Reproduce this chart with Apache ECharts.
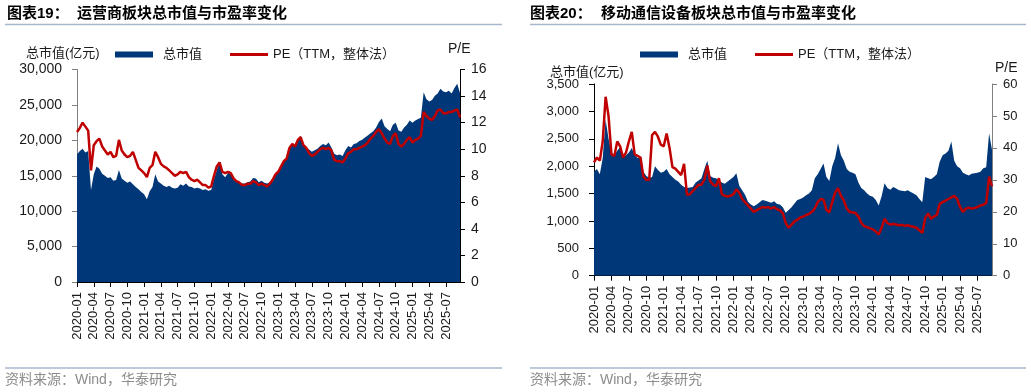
<!DOCTYPE html>
<html>
<head>
<meta charset="utf-8">
<script src="https://cdn.jsdelivr.net/npm/echarts@6/dist/echarts.min.js"></script>
<style>html,body{margin:0;padding:0;background:#fff;}#c{width:1031px;height:392px;}</style>
</head>
<body>
<div id="c"></div>
<script>
// quarter tick labels shown on the x axes
const tickLabels = ['2020-01','2020-04','2020-07','2020-10','2021-01','2021-04','2021-07','2021-10',
  '2022-01','2022-04','2022-07','2022-10','2023-01','2023-04','2023-07','2023-10',
  '2024-01','2024-04','2024-07','2024-10','2025-01','2025-04','2025-07'];

// semi-monthly observation dates, 2020-01-01 .. 2025-09-16
const dates = [];
for (let y = 2020; y <= 2025; y++) {
  for (let m = 1; m <= 12; m++) {
    const mm = (m < 10 ? '0' : '') + m;
    dates.push(y + '-' + mm + '-01');
    dates.push(y + '-' + mm + '-16');
  }
}
dates.length = 138;

// 图表19 运营商板块: 总市值 (亿元)
const leftCap = [
  18000,18500,18800,18300,18500,13000,15200,16300,16000,15300,
  15000,14700,14800,14300,14400,15800,14600,14300,14000,14200,
  13800,13400,13100,12700,12400,11700,12800,13400,15200,14200,
  13900,13600,13400,13600,13300,13200,13300,13800,13600,13900,
  13500,13400,13200,13300,13200,13000,13100,12900,13000,14500,
  15800,16800,15200,14800,15400,15300,14400,14200,14000,13900,
  13900,14100,14200,14700,14600,14100,14300,14000,13900,14100,
  14400,15200,15500,16300,17000,17400,18800,19500,19300,20200,
  20600,19400,19000,18700,18400,18600,18800,19200,19500,19300,
  19700,19000,18100,17900,18000,17800,18600,19200,19000,19500,
  19600,19900,20100,20400,20700,21000,21300,21800,22600,23100,
  22000,21600,21300,22200,22500,21400,21200,21800,22200,22800,
  22500,22800,23000,23200,26800,25800,25500,25700,26300,26600,
  27300,26900,26800,27000,26600,27400,28000,26700
];
// 图表19 运营商板块: PE (TTM, 整体法)
const leftPE = [
  11.3,11.6,12.0,11.7,11.4,8.4,10.3,10.6,10.8,10.2,
  9.9,9.6,9.8,9.4,9.5,10.7,9.9,9.6,9.4,9.5,
  9.8,9.2,8.6,8.4,8.2,7.9,8.6,8.8,9.8,9.4,
  8.9,8.7,8.6,8.4,8.2,8.0,8.1,8.3,8.2,8.3,
  7.9,7.7,7.6,7.7,7.5,7.3,7.3,7.1,7.2,8.0,
  8.7,9.0,8.3,8.2,8.3,8.2,7.8,7.6,7.5,7.3,
  7.3,7.4,7.4,7.6,7.5,7.3,7.4,7.3,7.2,7.4,
  7.7,8.1,8.3,8.7,9.1,9.3,10.1,10.4,10.2,10.7,
  10.9,10.3,10.1,9.7,9.5,9.6,9.8,10.0,10.1,10.0,
  10.1,9.9,9.2,9.1,9.1,9.0,9.3,9.7,9.8,10.0,
  10.0,10.1,10.2,10.3,10.5,10.8,11.0,11.3,11.5,11.2,
  10.8,10.5,10.4,11.0,11.2,10.4,10.2,10.4,10.7,10.9,
  10.5,10.7,10.8,11.0,12.8,12.5,12.3,12.2,12.5,12.9,
  13.0,12.7,12.7,12.8,12.8,12.9,13.0,12.4
];
// 图表20 移动通信设备板块: 总市值 (亿元)
const rightCap = [
  1900,1950,1850,2150,2850,2500,2250,2200,2280,2350,
  2150,2200,2250,2330,2200,2150,2150,1900,1820,1790,
  1800,2000,1930,1880,1900,1950,1850,1800,1750,1720,
  1660,1620,1600,1610,1620,1700,1740,1780,1950,2100,
  1820,1790,1780,1740,1700,1680,1720,1760,1800,1870,
  1640,1560,1480,1350,1300,1270,1300,1340,1380,1370,
  1350,1330,1360,1310,1300,1250,1150,1200,1250,1320,
  1380,1400,1430,1470,1500,1560,1780,1850,1950,2050,
  1800,1730,2000,2150,2420,2200,2100,1950,1900,1880,
  1850,1700,1600,1560,1500,1460,1440,1380,1280,1450,
  1690,1600,1570,1620,1590,1560,1550,1540,1560,1530,
  1500,1470,1400,1340,1800,1780,1760,1800,1850,2080,
  2200,2230,2280,2450,2100,2000,1960,1880,1850,1830,
  1860,1870,1880,1900,1960,1980,2600,2300
];
// 图表20 移动通信设备板块: PE (TTM, 整体法)
const rightPE = [
  35.5,37.0,36.0,42.0,56.0,50.0,38.0,37.5,42.0,40.5,
  37.0,38.5,42.0,45.0,38.0,37.5,37.0,31.0,30.0,30.0,
  44.0,45.0,43.5,41.0,40.5,44.5,40.0,34.0,33.5,32.5,
  31.5,35.0,25.3,25.5,26.5,27.5,28.5,28.5,30.0,34.5,
  29.5,28.5,28.0,30.5,25.5,25.0,24.8,25.0,25.5,27.0,
  26.0,24.0,23.0,22.0,21.0,20.0,20.5,21.0,21.5,21.3,
  21.5,21.0,21.5,20.8,20.5,19.5,16.5,15.0,16.0,17.0,
  17.5,18.2,18.5,19.0,19.3,20.0,21.0,23.0,24.0,23.8,
  20.6,19.8,23.0,26.0,27.4,25.0,23.5,21.0,20.0,19.8,
  19.6,18.5,16.5,15.5,15.2,14.8,14.5,13.8,12.9,15.0,
  17.8,16.5,16.0,16.2,16.0,15.8,15.9,15.6,15.8,15.5,
  15.3,15.0,14.2,13.4,18.0,19.5,17.8,18.5,19.0,22.5,
  23.0,23.5,24.0,24.5,25.0,24.0,21.5,20.0,21.0,21.3,
  21.0,21.2,21.5,22.0,22.2,22.8,31.0,28.0
];

const BLUE = '#003778';
const RED = '#C00000';
const FONT = '"Liberation Sans", "Noto Sans CJK SC", sans-serif';
const TXT = '#1a1a1a';
const tickSet = new Set(tickLabels);
const isTick = (idx, val) => val.slice(8) === '01' && tickSet.has(val.slice(0, 7));
const commas = v => String(v).replace(/\B(?=(\d{3})+(?!\d))/g, ',');

function xAxisCfg(gi) {
  return {
    type: 'category', gridIndex: gi, data: dates, boundaryGap: false,
    axisLine: { lineStyle: { color: '#000', width: 1 } },
    axisTick: { show: true, interval: isTick, length: 5, lineStyle: { color: '#000' } },
    axisLabel: { interval: isTick, rotate: 90, margin: 10, fontSize: 13, color: TXT, fontFamily: FONT,
      formatter: v => v.slice(0, 7) },
    splitLine: { show: false }
  };
}
function yAxisCfg(gi, pos, max, interval, lineColor, fontSize, margin, fmt) {
  return {
    type: 'value', gridIndex: gi, position: pos, min: 0, max: max, interval: interval,
    axisLine: { show: true, lineStyle: { color: lineColor, width: 1 } },
    axisTick: { show: true, length: 5, lineStyle: { color: lineColor } },
    axisLabel: { fontSize: fontSize, color: TXT, fontFamily: FONT, margin: margin, formatter: fmt },
    splitLine: { show: false }
  };
}
function legendCfg(name, left, top, w, h, pad) {
  return {
    left: left, top: top, padding: 0, itemGap: 0,
    itemWidth: w, itemHeight: h, icon: 'rect',
    selectedMode: false,
    data: [name],
    textStyle: { fontSize: 13, color: TXT, fontFamily: FONT, padding: pad }
  };
}
function txt(x, y, s, size, opts) {
  return Object.assign({ type: 'text', x: x, y: y, style: Object.assign({
    text: s, fontSize: size, fontFamily: FONT, fill: TXT, verticalAlign: 'middle', align: 'left'
  }, opts || {}) });
}
function hline(x1, x2, y, color, w) {
  return { type: 'line', shape: { x1: x1, y1: y, x2: x2, y2: y }, style: { stroke: color, lineWidth: w } };
}

const CAP = '总市值';
const PE = 'PE（TTM，整体法）';

const option = {
  animation: false,
  backgroundColor: '#fff',
  grid: [
    { left: 77, right: 571, top: 69.5, bottom: 110 },
    { left: 594, right: 39, top: 84, bottom: 116.3 }
  ],
  legend: [
    legendCfg(CAP, 115, 48, 38, 6, [0, 0, 0, 5]),
    legendCfg(PE, 230, 48, 38, 3, [0, 0, 0, 0]),
    legendCfg(CAP, 640, 48, 38, 6, [0, 0, 0, 5]),
    legendCfg(PE, 755, 48, 38, 3, [0, 0, 0, 0])
  ],
  xAxis: [xAxisCfg(0), xAxisCfg(1)],
  yAxis: [
    yAxisCfg(0, 'left', 30000, 5000, '#808080', 14, 15, commas),
    yAxisCfg(0, 'right', 16, 2, '#000', 14, 11, v => v),
    yAxisCfg(1, 'left', 3500, 500, '#000', 13, 15, commas),
    yAxisCfg(1, 'right', 60, 10, '#808080', 13, 11, v => v)
  ],
  series: [
    { name: CAP, type: 'line', xAxisIndex: 0, yAxisIndex: 0, data: leftCap, symbol: 'none',
      lineStyle: { width: 0, color: BLUE }, itemStyle: { color: BLUE },
      areaStyle: { color: BLUE, opacity: 1 }, z: 1 },
    { name: PE, type: 'line', xAxisIndex: 0, yAxisIndex: 1, data: leftPE, symbol: 'none',
      lineStyle: { width: 2.5, color: RED }, itemStyle: { color: RED }, z: 3 },
    { name: CAP, type: 'line', xAxisIndex: 1, yAxisIndex: 2, data: rightCap, symbol: 'none',
      lineStyle: { width: 0, color: BLUE }, itemStyle: { color: BLUE },
      areaStyle: { color: BLUE, opacity: 1 }, z: 1 },
    { name: PE, type: 'line', xAxisIndex: 1, yAxisIndex: 3, data: rightPE, symbol: 'none',
      lineStyle: { width: 2.5, color: RED }, itemStyle: { color: RED }, z: 3 }
  ],
  graphic: [
    txt(7, 14, '图表19：', 15, { fontWeight: 'bold', fill: '#000' }),
    txt(77, 14, '运营商板块总市值与市盈率变化', 15, { fontWeight: 'bold', fill: '#000' }),
    hline(5, 502, 24.5, '#a7b9cc', 1.5),
    txt(530, 14, '图表20：', 15, { fontWeight: 'bold', fill: '#000' }),
    txt(601, 14, '移动通信设备板块总市值与市盈率变化', 15, { fontWeight: 'bold', fill: '#000' }),
    hline(530, 1026, 24.5, '#a7b9cc', 1.5),
    txt(26, 53, '总市值(亿元)', 13),
    txt(448, 49, 'P/E', 14),
    txt(550, 72, '总市值(亿元)', 13),
    txt(995, 68, 'P/E', 14),
    hline(5, 502, 368, '#a7b9cc', 1.5),
    hline(530, 1026, 368, '#a7b9cc', 1.5),
    txt(5, 380, '资料来源：Wind，华泰研究', 14, { fill: '#8c8c8c' }),
    txt(530, 380, '资料来源：Wind，华泰研究', 14, { fill: '#8c8c8c' })
  ]
};

const chart = echarts.init(document.getElementById('c'), null, { renderer: 'canvas' });
chart.setOption(option);
</script>
</body>
</html>
